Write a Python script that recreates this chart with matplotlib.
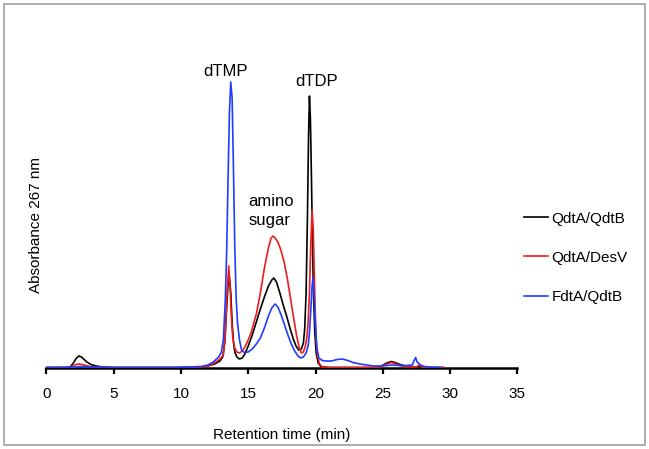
import matplotlib
matplotlib.use("Agg")
import matplotlib.pyplot as plt
from matplotlib.patches import Rectangle

plt.rcParams["font.family"] = ["Liberation Sans", "DejaVu Sans"]

# -----------------------------------
# Chromatogram traces (retention time in min, absorbance in arbitrary units)
# -----------------------------------
black_t = [0, 1.5, 1.8, 2.0, 2.2, 2.4, 2.6, 2.8, 3.0, 3.3, 3.7, 4.2, 5.0, 10.0,
           11.5, 12.0, 12.5, 12.9, 13.1, 13.25, 13.4, 13.5, 13.6, 13.7, 13.8,
           13.9, 14.0, 14.15, 14.35, 14.55, 14.75, 15.0, 15.3, 15.6, 15.9, 16.2,
           16.5, 16.75, 16.9, 17.1, 17.35, 17.6, 17.85, 18.1, 18.35, 18.55,
           18.75, 18.95, 19.1, 19.2, 19.3, 19.4, 19.48, 19.55, 19.62, 19.7,
           19.78, 19.86, 19.95, 20.05, 20.2, 20.4, 21.0, 24.5, 24.9, 25.3,
           25.65, 26.0, 26.4, 27.0, 27.5, 27.7, 28.0, 29.5]
black_a = [0.5, 0.5, 1.5, 5, 9.5, 12, 11, 8.5, 6, 3.5, 2, 1, 0.5, 0.5,
           1, 2, 4, 7, 11, 25, 62, 85, 91, 75, 45,
           26, 16, 11, 9, 10, 14, 22, 33, 46, 59, 71,
           82, 88, 90, 86, 75, 63, 52, 40, 29, 22,
           18, 19, 25, 40, 75, 150, 230, 272, 250, 190,
           120, 70, 35, 15, 5, 1.5, 0.5, 0.5, 2, 5,
           6.5, 5, 3, 1, 1, 1.5, 0.5, 0.5]

red_t = [0, 1.6, 1.9, 2.2, 2.45, 2.8, 3.2, 3.8, 5, 10, 11.5, 12.0, 12.5, 12.9,
         13.15, 13.3, 13.42, 13.55, 13.65, 13.75, 13.85, 14.0, 14.15, 14.35,
         14.55, 14.75, 15.0, 15.25, 15.6, 15.9, 16.2, 16.5, 16.7, 16.85, 17.0,
         17.2, 17.4, 17.65, 17.9, 18.15, 18.4, 18.6, 18.8, 18.95, 19.1, 19.25,
         19.35, 19.45, 19.55, 19.65, 19.75, 19.83, 19.9, 19.98, 20.05, 20.15,
         20.3, 20.5, 21, 24.5, 24.9, 25.3, 25.65, 26.0, 26.4, 27.0, 27.5, 27.7,
         27.9, 28.2, 29.5]
red_a = [0.5, 0.5, 1.5, 3.5, 4, 3, 1.5, 0.7, 0.5, 0.5, 1, 2, 5, 9,
         13, 35, 75, 102, 80, 50, 30, 20, 16, 15,
         17, 21, 28, 37, 54, 75, 100, 120, 130, 132, 130,
         126, 119, 107, 90, 69, 48, 32, 20, 15, 16, 22,
         30, 45, 75, 125, 158, 140, 100, 55, 28, 12,
         4, 1, 0.5, 0.5, 1.5, 4, 5.5, 4, 2, 1, 1, 3,
         1, 0.5, 0.5]

blue_t = [0, 2.0, 2.5, 3.5, 5, 9.5, 10.5, 11.5, 12.0, 12.4, 12.8, 13.0, 13.15,
          13.3, 13.4, 13.5, 13.6, 13.7, 13.8, 13.9, 14.0, 14.1, 14.2, 14.35,
          14.5, 14.7, 15.0, 15.3, 15.6, 15.9, 16.2, 16.5, 16.75, 17.0, 17.2,
          17.45, 17.7, 17.95, 18.2, 18.45, 18.7, 18.9, 19.1, 19.3, 19.45, 19.55,
          19.65, 19.75, 19.82, 19.9, 20.0, 20.1, 20.25, 20.5, 20.8, 21.2, 21.6,
          22.0, 22.4, 22.8, 23.3, 23.8, 24.3, 24.8, 25.3, 25.7, 26.2, 26.8,
          27.2, 27.35, 27.45, 27.55, 27.65, 27.8, 28.1, 28.6, 29.3]
blue_a = [0.5, 0.8, 1.5, 1, 0.5, 0.5, 1, 1.5, 3, 6, 11, 16, 28,
          70, 120, 190, 255, 286, 270, 200, 120, 70, 45, 28,
          18, 15.5, 16, 19, 24, 30, 40, 52, 60, 64, 61,
          53, 43, 33, 24, 17, 12, 10, 11, 15, 22, 35,
          58, 83, 90, 72, 42, 20, 10, 7.5, 7, 7, 8.5,
          9, 7.5, 5.5, 4, 3, 2, 2, 2.5, 3, 2.5, 2.5,
          3, 8, 10.5, 6, 5, 3, 1.5, 0.8, 0.5]

series_labels = ["QdtA/QdtB", "QdtA/DesV", "FdtA/QdtB"]
x_ticks = [0, 5, 10, 15, 20, 25, 30, 35]

# -----------------------------------
# Plot
# -----------------------------------
fig = plt.figure(figsize=(6.49, 4.49), dpi=100)
ax = fig.add_axes([46.5 / 649, 81 / 449, 470.75 / 649, 300 / 449])

ax.plot(black_t, black_a, color="black", lw=1.2, label=series_labels[0])
ax.plot(red_t, red_a, color="#ee1c1c", lw=1.2, label=series_labels[1])
ax.plot(blue_t, blue_a, color="#1f3cff", lw=1.2, label=series_labels[2])

ax.set_xlim(0, 35)
ax.set_ylim(0, 300)
ax.set_xticks(x_ticks)
ax.set_yticks([])
for side in ["top", "right", "left"]:
    ax.spines[side].set_visible(False)
ax.spines["bottom"].set_linewidth(1.8)
ax.spines["bottom"].set_zorder(0)
ax.tick_params(axis="x", direction="out", length=4.5, width=1.6, pad=9,
               labelsize=11)

ax.set_xlabel("Retention time (min)", fontsize=11)
ax.xaxis.set_label_coords(0.5, -67 / 300)
ax.xaxis.label.set_va("center")
ax.set_ylabel("Absorbance 267 nm", fontsize=11)
ax.yaxis.set_label_coords(-10 / 470.75, 143 / 300)
ax.yaxis.label.set_va("center")

# peak names
ax.text(13.3, 296, "dTMP", fontsize=12, ha="center", va="center")
ax.text(20.1, 287, "dTDP", fontsize=12, ha="center", va="center")
ax.text(15.0, 157, "amino\nsugar", fontsize=12, ha="left", va="center",
        linespacing=1.3)

fig.legend(loc="upper left", bbox_to_anchor=(524 / 649, 1 - 211.5 / 449),
           frameon=False, fontsize=11, borderpad=0, borderaxespad=0,
           handlelength=1.6, handletextpad=0.2, labelspacing=1.65)

# thin grey frame round the whole picture
fig.patches.append(Rectangle((4 / 649, 4 / 449), 641 / 649, 441 / 449,
                             transform=fig.transFigure, fill=False,
                             edgecolor="#a0a0a0", lw=1.2))

fig.savefig("out.png", dpi=100)
